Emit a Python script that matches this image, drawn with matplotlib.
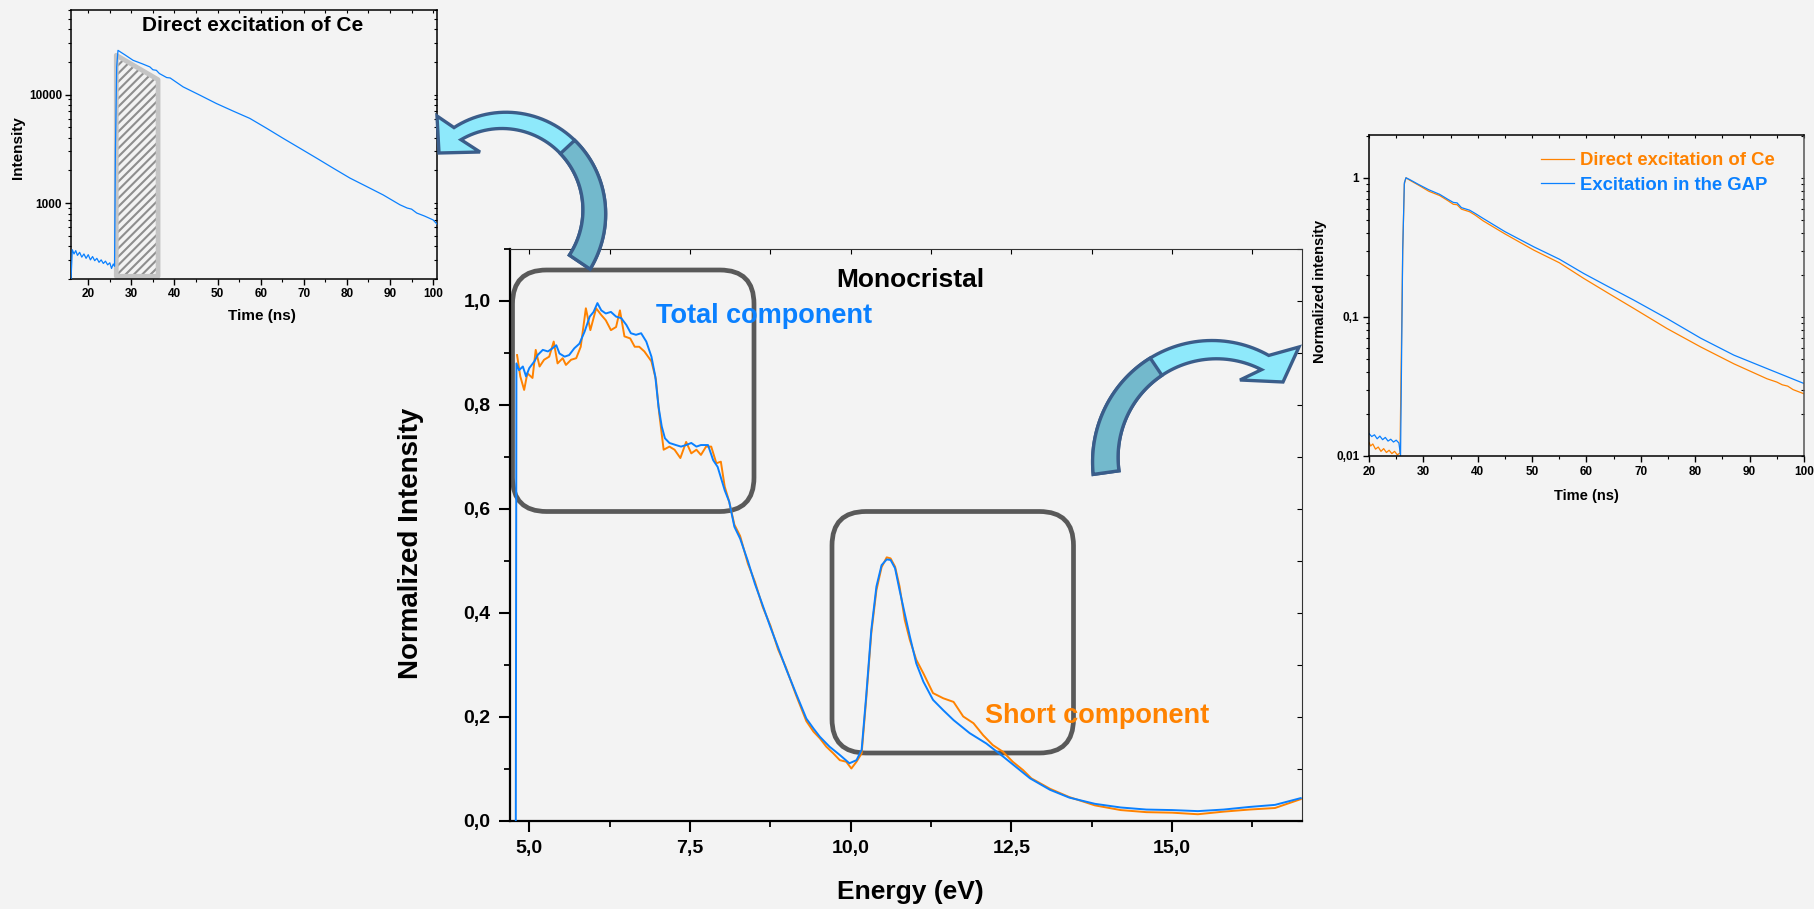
import matplotlib
matplotlib.use('Agg')
import matplotlib.pyplot as plt
import matplotlib.ticker as ticker
import matplotlib.transforms as mtransforms
from matplotlib.patches import Polygon, FancyBboxPatch
import numpy as np

W, H = 1815, 909
BG = '#f3f3f3'
BLUE = '#0a80ff'
ORANGE = '#ff8200'

plt.rcParams['font.family'] = ['Liberation Sans', 'DejaVu Sans']
plt.rcParams['font.weight'] = 'bold'
plt.rcParams['axes.labelweight'] = 'bold'
plt.rcParams['hatch.linewidth'] = 1.5

# --- main spectrum (Monocristal) ---
energy_total = [4.79, 4.80, 4.84, 4.90, 4.95, 5.00, 5.08, 5.13, 5.21, 5.29, 5.36, 5.42, 5.47,
                5.55, 5.62, 5.70, 5.78, 5.86, 5.94, 6.00, 6.06, 6.12, 6.19, 6.27, 6.35, 6.43,
                6.51, 6.58, 6.66, 6.74, 6.82, 6.90, 6.96, 7.01, 7.06, 7.11, 7.18, 7.28, 7.36,
                7.44, 7.52, 7.60, 7.67, 7.78, 7.86, 7.93, 8.04, 8.11, 8.19, 8.28, 8.40, 8.51,
                8.63, 8.75, 8.87, 8.99, 9.15, 9.31, 9.42, 9.52, 9.67, 9.83, 9.98, 10.09, 10.17,
                10.24, 10.32, 10.40, 10.48, 10.56, 10.62, 10.69, 10.76, 10.84, 10.92, 11.02,
                11.13, 11.28, 11.44, 11.60, 11.85, 12.11, 12.37, 12.63, 12.79, 13.1, 13.4,
                13.8, 14.2, 14.6, 15.0, 15.4, 15.8, 16.2, 16.6, 17.0]
total_component = [-0.02, 0.880, 0.867, 0.874, 0.855, 0.871, 0.884, 0.896, 0.906, 0.903, 0.909,
                   0.915, 0.899, 0.893, 0.896, 0.909, 0.918, 0.941, 0.970, 0.979, 0.996, 0.982,
                   0.976, 0.979, 0.970, 0.967, 0.954, 0.938, 0.935, 0.938, 0.922, 0.893, 0.855,
                   0.797, 0.759, 0.736, 0.727, 0.723, 0.720, 0.723, 0.727, 0.720, 0.723, 0.723,
                   0.694, 0.681, 0.636, 0.614, 0.566, 0.543, 0.500, 0.456, 0.415, 0.373, 0.334,
                   0.294, 0.245, 0.197, 0.178, 0.162, 0.143, 0.127, 0.111, 0.117, 0.137, 0.239,
                   0.367, 0.451, 0.492, 0.503, 0.502, 0.486, 0.444, 0.399, 0.355, 0.303, 0.268,
                   0.233, 0.213, 0.194, 0.169, 0.149, 0.124, 0.098, 0.082, 0.060, 0.045, 0.033,
                   0.026, 0.022, 0.021, 0.019, 0.022, 0.027, 0.031, 0.044]

energy_short = [4.81, 4.86, 4.92, 4.97, 5.05, 5.10, 5.16, 5.23, 5.31, 5.38, 5.44, 5.52, 5.57,
                5.65, 5.73, 5.80, 5.88, 5.95, 6.04, 6.12, 6.19, 6.27, 6.35, 6.41, 6.48, 6.57,
                6.64, 6.71, 6.79, 6.90, 6.97, 7.02, 7.09, 7.18, 7.26, 7.35, 7.44, 7.52, 7.60,
                7.67, 7.75, 7.83, 7.91, 7.98, 8.04, 8.11, 8.19, 8.28, 8.40, 8.51, 8.63, 8.75,
                8.87, 8.99, 9.15, 9.31, 9.42, 9.52, 9.62, 9.73, 9.83, 9.93, 10.01, 10.09, 10.17,
                10.24, 10.32, 10.40, 10.48, 10.56, 10.62, 10.69, 10.76, 10.84, 10.92, 11.02,
                11.13, 11.28, 11.44, 11.60, 11.75, 11.91, 12.06, 12.21, 12.37, 12.52, 12.68,
                12.81, 13.1, 13.4, 13.8, 14.2, 14.6, 15.0, 15.4, 15.8, 16.2, 16.6, 17.0]
short_component = [0.896, 0.855, 0.829, 0.861, 0.852, 0.906, 0.874, 0.887, 0.893, 0.922, 0.880,
                   0.890, 0.877, 0.887, 0.890, 0.912, 0.986, 0.944, 0.986, 0.973, 0.963, 0.944,
                   0.950, 0.982, 0.932, 0.928, 0.912, 0.912, 0.903, 0.884, 0.849, 0.785, 0.714,
                   0.720, 0.714, 0.698, 0.729, 0.707, 0.714, 0.704, 0.720, 0.720, 0.688, 0.691,
                   0.643, 0.614, 0.570, 0.548, 0.495, 0.460, 0.412, 0.376, 0.330, 0.296, 0.242,
                   0.192, 0.172, 0.159, 0.143, 0.130, 0.117, 0.114, 0.101, 0.114, 0.130, 0.233,
                   0.361, 0.444, 0.488, 0.507, 0.505, 0.489, 0.451, 0.387, 0.348, 0.310, 0.284,
                   0.246, 0.236, 0.229, 0.201, 0.188, 0.165, 0.146, 0.133, 0.114, 0.098, 0.082,
                   0.062, 0.046, 0.030, 0.021, 0.017, 0.016, 0.013, 0.018, 0.022, 0.025, 0.042]

# --- left inset: decay under direct Ce excitation ---
time_left = [16.0, 16.3, 16.7, 17.1, 17.5, 18.0, 18.5, 19.0, 19.5, 20.0, 20.5, 21.0, 21.5,
             22.0, 22.5, 23.0, 23.5, 24.0, 24.5, 25.0, 25.4, 25.8, 26.1, 26.3, 26.6, 26.9,
             27.5, 28.5, 30.4, 32.5, 34.3, 35.0, 35.8, 36.5, 38.2, 39.0, 42.0, 45.9, 49.7,
             53.6, 57.5, 61.4, 65.2, 69.1, 73.0, 76.8, 80.7, 84.6, 88.4, 92.3, 94.0, 95.0,
             96.2, 98.0, 100.0, 100.9]
counts_left = [195, 372, 340, 365, 330, 352, 318, 340, 310, 335, 300, 322, 295, 310, 285, 300,
               278, 292, 270, 282, 250, 275, 262, 3000, 18000, 25500, 24600, 23200, 20650,
               19200, 17950, 16900, 16700, 15600, 14320, 14200, 11760, 9860, 8270, 7040, 6020,
               4880, 3950, 3200, 2590, 2100, 1700, 1420, 1190, 965, 900, 880, 810, 760, 700, 640]
gate_time = [26.5, 36.2]
gate_top = [23000, 13700]
gate_floor = 212

# --- right inset: normalized decays ---
time_gap = [20.0, 20.5, 21.0, 21.5, 22.0, 22.5, 23.0, 23.5, 24.0, 24.5, 25.0, 25.5, 25.8,
            26.2, 26.5, 26.8, 27.5, 29.0, 31.0, 33.0, 34.5, 35.5, 36.2, 37.0, 38.5, 39.5,
            41.0, 45.0, 50.3, 55.0, 59.5, 64.0, 68.7, 74.8, 81.0, 87.1, 93.2, 100.0]
decay_gap = [0.0145, 0.0138, 0.0142, 0.0133, 0.0139, 0.0131, 0.0136, 0.0128, 0.0132, 0.0126,
             0.0130, 0.0124, 0.0101, 0.30, 0.92, 1.0, 0.97, 0.90, 0.82, 0.76, 0.70, 0.665,
             0.66, 0.61, 0.585, 0.555, 0.51, 0.41, 0.319, 0.26, 0.205, 0.165, 0.132, 0.0974,
             0.0703, 0.0531, 0.0425, 0.0332]
time_ce = [20.0, 20.3, 20.7, 21.2, 21.7, 22.2, 22.7, 23.2, 23.7, 24.2, 24.7, 25.2, 25.7,
           26.2, 26.5, 26.8, 27.5, 29.0, 31.0, 33.0, 34.5, 35.5, 36.2, 37.0, 38.5, 39.5,
           41.0, 45.0, 50.3, 55.0, 59.5, 64.0, 68.7, 74.8, 81.0, 87.1, 93.2, 95.0, 96.0,
           97.0, 98.0, 100.0]
decay_ce = [0.0125, 0.0118, 0.0122, 0.0112, 0.0116, 0.0108, 0.0113, 0.0106, 0.0110, 0.0104,
            0.0108, 0.0102, 0.0105, 0.30, 0.90, 1.0, 0.96, 0.89, 0.80, 0.745, 0.685, 0.645,
            0.64, 0.595, 0.57, 0.54, 0.49, 0.395, 0.302, 0.245, 0.189, 0.148, 0.115, 0.0825,
            0.0608, 0.046, 0.0359, 0.034, 0.0325, 0.0318, 0.030, 0.028]

comma = ticker.FuncFormatter(lambda v, p: ('%.1f' % v).replace('.', ','))
comma_g = ticker.FuncFormatter(lambda v, p: ('%g' % v).replace('.', ','))

fig = plt.figure(figsize=(W / 100, H / 100), dpi=100, facecolor=BG)
px = mtransforms.Affine2D().scale(1 / W, -1 / H).translate(0, 1) + fig.transFigure


def axes_px(left, top, right, bottom):
    return fig.add_axes([left / W, 1 - bottom / H, (right - left) / W, (bottom - top) / H])


def mirror(ax, xmaj, xmin, ymaj=None, ymin=None, length=3, width=0.8):
    top = ax.secondary_xaxis('top')
    top.xaxis.set_major_locator(xmaj)
    top.xaxis.set_minor_locator(xmin)
    top.tick_params(which='both', direction='in', labeltop=False, length=length, width=width)
    top.spines['top'].set_visible(False)
    right = ax.secondary_yaxis('right')
    if ymaj is not None:
        right.yaxis.set_major_locator(ymaj)
        right.yaxis.set_minor_locator(ymin)
    right.tick_params(which='both', direction='in', labelright=False, length=length, width=width)
    right.spines['right'].set_visible(False)


# ---------------- main plot ----------------
ax = axes_px(510, 249, 1302, 821)
ax.set_facecolor(BG)
ax.plot(energy_short, short_component, color=ORANGE, lw=1.4, zorder=3)
ax.plot(energy_total, total_component, color=BLUE, lw=1.4, zorder=4)
ax.set_xlim(4.7, 17.02)
ax.set_ylim(0, 1.1)
ax.xaxis.set_major_locator(ticker.MultipleLocator(2.5))
ax.xaxis.set_minor_locator(ticker.MultipleLocator(1.25))
ax.yaxis.set_major_locator(ticker.MultipleLocator(0.2))
ax.yaxis.set_minor_locator(ticker.MultipleLocator(0.1))
ax.xaxis.set_major_formatter(comma)
ax.yaxis.set_major_formatter(comma)
ax.tick_params(which='major', direction='out', length=8, width=1.5, labelsize=14, pad=6)
ax.tick_params(which='minor', direction='out', length=4.5, width=1.3)
for s in ('left', 'bottom'):
    ax.spines[s].set_linewidth(1.6)
for s in ('top', 'right'):
    ax.spines[s].set_linewidth(0.8)
    ax.spines[s].set_color('#333333')
mirror(ax, ticker.MultipleLocator(2.5), ticker.MultipleLocator(1.25),
       ticker.MultipleLocator(0.2), ticker.MultipleLocator(0.1), length=3.5)
ax.set_xlabel('Energy (eV)', fontsize=19)
ax.set_ylabel('Normalized Intensity', fontsize=20)
ax.xaxis.set_label_coords(0.506, -0.104)
ax.yaxis.set_label_coords(-0.109, 0.485)
ax.text(0.506, 0.946, 'Monocristal', transform=ax.transAxes, ha='center', va='center',
        fontsize=19)
ax.text(0.184, 0.883, 'Total component', transform=ax.transAxes, ha='left', va='center',
        fontsize=19.5, color=BLUE, zorder=6)
ax.text(0.600, 0.184, 'Short component', transform=ax.transAxes, ha='left', va='center',
        fontsize=19.5, color=ORANGE, zorder=6)
for x0, y0 in [(512.5, 270), (832, 511.5)]:
    box = FancyBboxPatch((x0, y0), 241.5, 241.5, boxstyle='round,pad=0,rounding_size=34',
                         transform=px, fill=False, edgecolor='#595959', lw=3.4,
                         clip_on=False, zorder=2)
    ax.add_patch(box)

# ---------------- left inset ----------------
axl = axes_px(71, 10, 437, 279)
axl.set_facecolor(BG)
axl.set_yscale('log')
axl.fill_between(gate_time, gate_floor, gate_top, facecolor=BG, edgecolor='#8e8e8e',
                 hatch='////', lw=0, zorder=2)
axl.fill_between(gate_time, gate_floor, gate_top, facecolor='none', edgecolor='#c4c4c4',
                 lw=3.4, joinstyle='round', zorder=2.5)
axl.plot(time_left, counts_left, color=BLUE, lw=0.9, zorder=3)
axl.set_xlim(16, 100.9)
axl.set_ylim(200, 60000)
axl.xaxis.set_major_locator(ticker.MultipleLocator(10))
axl.xaxis.set_minor_locator(ticker.MultipleLocator(5))
axl.yaxis.set_major_locator(ticker.LogLocator(base=10))
axl.yaxis.set_minor_locator(ticker.LogLocator(base=10, subs=np.arange(2, 10)))
axl.yaxis.set_major_formatter(ticker.FuncFormatter(lambda v, p: '%d' % v))
axl.yaxis.set_minor_formatter(ticker.NullFormatter())
axl.tick_params(which='major', direction='out', length=4.5, width=1.0, labelsize=8.5, pad=2)
axl.tick_params(which='minor', direction='out', length=2.5, width=0.8)
for s in axl.spines.values():
    s.set_linewidth(1.1)
mirror(axl, ticker.MultipleLocator(10), ticker.MultipleLocator(5), length=2.5)
axl.set_xlabel('Time (ns)', fontsize=11)
axl.set_ylabel('Intensity', fontsize=11)
axl.xaxis.set_label_coords(0.522, -0.112)
axl.yaxis.set_label_coords(-0.125, 0.49)
axl.text(0.495, 0.941, 'Direct excitation of Ce', transform=axl.transAxes, ha='center',
         va='center', fontsize=15)

# ---------------- right inset ----------------
axr = axes_px(1369, 135, 1804, 456)
axr.set_facecolor(BG)
axr.set_yscale('log')
axr.plot(time_ce, decay_ce, color=ORANGE, lw=0.9, label='Direct excitation of Ce')
axr.plot(time_gap, decay_gap, color=BLUE, lw=0.9, label='Excitation in the GAP')
axr.set_xlim(20, 100)
axr.set_ylim(0.01, 2.03)
axr.xaxis.set_major_locator(ticker.MultipleLocator(10))
axr.xaxis.set_minor_locator(ticker.MultipleLocator(5))
axr.yaxis.set_major_locator(ticker.LogLocator(base=10))
axr.yaxis.set_minor_locator(ticker.LogLocator(base=10, subs=np.arange(2, 10)))
axr.yaxis.set_major_formatter(comma_g)
axr.yaxis.set_minor_formatter(ticker.NullFormatter())
axr.tick_params(which='major', direction='out', length=4.5, width=1.0, labelsize=8.5, pad=2.5)
axr.tick_params(which='minor', direction='out', length=2.5, width=0.8)
for s in axr.spines.values():
    s.set_linewidth(1.1)
axr.spines['right'].set_color('#555555')
mirror(axr, ticker.MultipleLocator(10), ticker.MultipleLocator(5), length=2.5)
axr.set_xlabel('Time (ns)', fontsize=10.5)
axr.set_ylabel('Normalized intensity', fontsize=10.5)
axr.xaxis.set_label_coords(0.501, -0.104)
axr.yaxis.set_label_coords(-0.097, 0.514)
leg = axr.legend(loc='upper left', bbox_to_anchor=(0.387, 0.957), frameon=False, fontsize=13.3,
                 handlelength=1.8, handletextpad=0.3, labelspacing=0.4, borderaxespad=0,
                 borderpad=0.2, labelcolor='linecolor')


# ---------------- curved arrows ----------------
def curved_arrow(cx, cy, a0, a1, r0, r1, w0, w1, head, split):
    def band(a_start, a_end, n=60):
        a = np.linspace(a_start, a_end, n)
        f = (a - a0) / (a1 - a0)
        r = r0 + (r1 - r0) * f
        w = w0 + (w1 - w0) * f
        t = np.radians(a)
        outer = np.column_stack([cx + (r + w / 2) * np.cos(t), cy - (r + w / 2) * np.sin(t)])
        inner = np.column_stack([cx + (r - w / 2) * np.cos(t), cy - (r - w / 2) * np.sin(t)])
        return outer, inner

    out, inn = band(a0, a1)
    whole = np.vstack([out, np.array(head, float), inn[::-1]])
    out2, inn2 = band(a0, split)
    tail = np.vstack([out2, inn2[::-1]])
    fig.add_artist(Polygon(whole, closed=True, transform=px, facecolor='#8ee9fb',
                           edgecolor='#3a5d8a', lw=2.4, joinstyle='miter', zorder=10))
    fig.add_artist(Polygon(tail, closed=True, transform=px, facecolor='#73b9cc',
                           edgecolor='#3a5d8a', lw=2.4, joinstyle='miter', zorder=11))


curved_arrow(501, 209, -34, 120, 95, 87, 25, 14,
             [(437, 116), (439, 153), (480, 152)], 43)
curved_arrow(1217, 457, 188, 63, 112, 106, 26, 16,
             [(1299, 347), (1283, 382), (1240, 380)], 124)

fig.savefig('out.png', dpi=100, facecolor=BG)
